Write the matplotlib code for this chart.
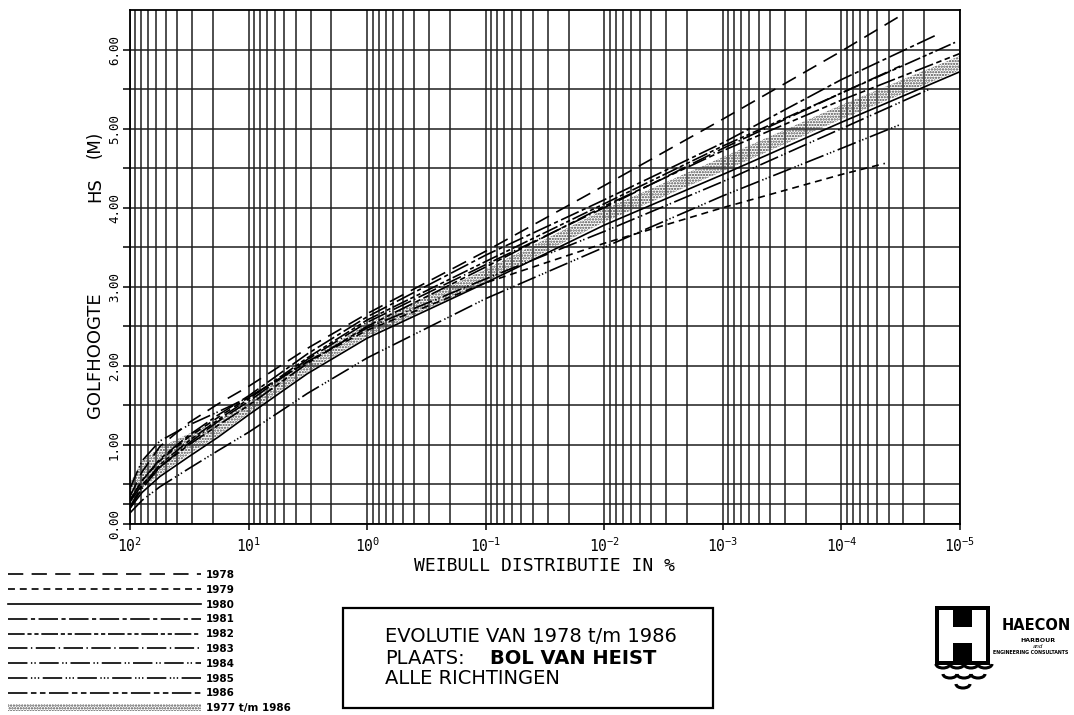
import matplotlib
matplotlib.use('Agg')
import matplotlib.pyplot as plt
import numpy as np
from matplotlib.patches import Rectangle, Arc, Patch
from matplotlib.ticker import FixedLocator, LogLocator, NullFormatter

plt.rcParams['lines.scale_dashes'] = False
plt.rcParams['mathtext.fontset'] = 'custom'
plt.rcParams['mathtext.rm'] = 'DejaVu Sans Mono'
plt.rcParams['hatch.linewidth'] = 1.1

# exceedance probability (%) read at these points, H_s in m
p_grid = [100, 79, 56, 32, 18, 10, 3.2, 1, 0.1, 0.01, 1e-3, 1e-4]

years = ['1978', '1979', '1980', '1981', '1982', '1983', '1984', '1985', '1986']
p_end = [3e-5, 4.3e-5, 1e-5, 1.55e-5, 1.1e-5, 3.2e-5, 1.74e-5, 3.2e-5, 1e-5]

h_1978 = [0.35, 0.66, 0.98, 1.28, 1.52, 1.74, 2.22, 2.66, 3.45, 4.28, 5.12, 5.98, 6.45]
h_1979 = [0.30, 0.55, 0.80, 1.10, 1.35, 1.60, 2.05, 2.45, 3.05, 3.55, 4.00, 4.42, 4.56]
h_1980 = [0.20, 0.40, 0.60, 0.85, 1.10, 1.38, 1.90, 2.35, 3.05, 3.78, 4.42, 5.08, 5.72]
h_1981 = [0.30, 0.55, 0.82, 1.12, 1.38, 1.62, 2.15, 2.62, 3.40, 4.10, 4.82, 5.62, 6.19]
h_1982 = [0.22, 0.48, 0.75, 1.05, 1.32, 1.58, 2.10, 2.58, 3.32, 4.05, 4.78, 5.45, 6.09]
h_1983 = [0.20, 0.45, 0.72, 1.02, 1.30, 1.55, 2.08, 2.55, 3.28, 4.00, 4.75, 5.45, 5.79]
h_1984 = [0.45, 0.80, 1.05, 1.25, 1.42, 1.60, 2.05, 2.48, 3.10, 3.70, 4.33, 5.00, 5.51]
h_1985 = [0.14, 0.30, 0.47, 0.70, 0.93, 1.16, 1.65, 2.10, 2.85, 3.50, 4.15, 4.75, 5.05]
h_1986 = [0.28, 0.50, 0.72, 1.00, 1.25, 1.50, 2.03, 2.50, 3.25, 4.02, 4.72, 5.36, 5.95]
h_years = [h_1978, h_1979, h_1980, h_1981, h_1982, h_1983, h_1984, h_1985, h_1986]

# band 1977 t/m 1986
p_band = [100, 79, 56, 32, 18, 10, 3.2, 1, 0.1, 0.01, 1e-3, 1e-4, 1e-5]
band_low = [0.25, 0.45, 0.62, 0.88, 1.12, 1.40, 1.92, 2.37, 3.06, 3.82, 4.46, 5.12, 5.74]
band_high = [0.52, 0.80, 0.97, 1.14, 1.31, 1.55, 2.07, 2.53, 3.22, 3.98, 4.64, 5.30, 5.92]

xtick_vals = [1e2, 1e1, 1e0, 1e-1, 1e-2, 1e-3, 1e-4, 1e-5]
xtick_labels = [r'$10^{2}$', r'$10^{1}$', r'$10^{0}$', r'$10^{-1}$',
                r'$10^{-2}$', r'$10^{-3}$', r'$10^{-4}$', r'$10^{-5}$']
ytick_vals = [0, 1, 2, 3, 4, 5, 6]
ytick_labels = ['0.00', '1.00', '2.00', '3.00', '4.00', '5.00', '6.00']
ygrid_minor = [0.25, 0.5, 1.5, 2.5, 3.5, 4.5, 5.5]

styles = {
    '1978': (0, (11, 6)),
    '1979': (0, (5, 3.5)),
    '1980': '-',
    '1981': (0, (14, 2.5, 3, 2.5)),
    '1982': (0, (12, 2, 3, 2, 3, 2)),
    '1983': (0, (14, 2.5, 1, 2.5)),
    '1984': (0, (14, 2.5, 1, 1.5, 1, 2.5)),
    '1985': (0, (14, 2.5, 1, 1.5, 1, 1.5, 1, 2.5)),
    '1986': (0, (14, 2.5, 4, 2.5, 4, 2.5)),
}

W, H = 1074, 715
fig = plt.figure(figsize=(W / 100, H / 100), dpi=100)
ax = fig.add_axes([130 / W, 1 - 524 / H, 830 / W, 514 / H])

ax.set_xscale('log')
ax.set_xlim(1e2, 1e-5)
ax.set_ylim(0, 6.5)

ax.xaxis.set_minor_locator(LogLocator(base=10, subs=np.arange(2, 10), numticks=30))
ax.xaxis.set_minor_formatter(NullFormatter())
ax.set_xticks(xtick_vals)
ax.set_xticklabels(xtick_labels)
ax.set_yticks(ytick_vals)
ax.set_yticklabels(ytick_labels, rotation=90, va='center', family='DejaVu Sans Mono', fontsize=9)
ax.yaxis.set_minor_locator(FixedLocator(ygrid_minor))

ax.grid(True, which='both', color='#1e1e1e', lw=1.1, zorder=1)
ax.set_axisbelow(True)
ax.tick_params(axis='x', which='major', direction='out', length=4, width=1.1, pad=5, labelsize=10.5)
ax.tick_params(axis='x', which='minor', length=0)
ax.tick_params(axis='y', which='both', direction='out', length=5, width=1.1, pad=1.5)
for s in ax.spines.values():
    s.set_linewidth(1.3)

ax.set_xlabel('WEIBULL DISTRIBUTIE IN %', family='DejaVu Sans Mono', fontsize=13)
ax.xaxis.set_label_coords(0.5, -0.065)

# y label pieces
fig.text(95 / W, 1 - 355 / H, 'GOLFHOOGTE', rotation=90, ha='center', va='center', fontsize=13)
fig.text(95 / W, 1 - 190 / H, 'HS', rotation=90, ha='center', va='center', fontsize=13)
fig.text(95 / W, 1 - 144 / H, '(M)', rotation=90, ha='center', va='center', fontsize=12)

ax.fill_between(p_band, band_low, band_high, facecolor='none', edgecolor='#4a4a4a',
                hatch='......', lw=0, zorder=2)

handles = []
for year, pe, hv in zip(years, p_end, h_years):
    ln, = ax.plot(p_grid + [pe], hv, color='black', lw=1.2, linestyle=styles[year],
                  label=year, zorder=3)
    handles.append(ln)

handles.append(Patch(facecolor='none', edgecolor='#4a4a4a', hatch='......', lw=0))
labels = years + ['1977 t/m 1986']
fig.legend(handles, labels, loc='upper left', bbox_to_anchor=(8 / W, 1 - 570 / H),
           frameon=False, prop={'weight': 'bold', 'size': 7.5}, handlelength=18.5,
           handletextpad=0.5, labelspacing=0.46, borderpad=0, borderaxespad=0)

# title box
fig.add_artist(Rectangle((343 / W, 1 - 708 / H), 370 / W, 100 / H, transform=fig.transFigure,
                         fill=False, lw=1.6, ec='black'))
fig.text(385 / W, 1 - 637 / H, 'EVOLUTIE VAN 1978 t/m 1986', va='center', fontsize=14)
fig.text(385 / W, 1 - 658 / H, 'PLAATS:', va='center', fontsize=14)
fig.text(490 / W, 1 - 658 / H, 'BOL VAN HEIST', va='center', fontsize=14, weight='bold')
fig.text(385 / W, 1 - 679 / H, 'ALLE RICHTINGEN', va='center', fontsize=14)

# logo
lg = fig.add_axes([930 / W, 1 - 700 / H, 144 / W, 100 / H])
lg.set_xlim(930, 1074)
lg.set_ylim(700, 600)
lg.axis('off')
lg.add_patch(Rectangle((935, 606), 55, 59, fc='black', ec='none'))
lg.add_patch(Rectangle((939, 610), 14, 51, fc='white', ec='none'))
lg.add_patch(Rectangle((972, 610), 14, 51, fc='white', ec='none'))
lg.add_patch(Rectangle((952, 627), 21, 16, fc='white', ec='none'))
for cx in [943, 957, 971, 985]:
    lg.add_patch(Arc((cx, 664), 14, 8, theta1=0, theta2=180, lw=2.2, color='black'))
for cx in [950, 964, 978]:
    lg.add_patch(Arc((cx, 674), 14, 8, theta1=0, theta2=180, lw=2.2, color='black'))
lg.add_patch(Arc((963, 684), 14, 8, theta1=0, theta2=180, lw=2.2, color='black'))
fig.text(1002 / W, 1 - 625 / H, 'HAECON', va='center', fontsize=10.5, weight='bold')
fig.text(1020 / W, 1 - 641 / H, 'HARBOUR', va='center', fontsize=4.5, weight='bold')
fig.text(1033 / W, 1 - 647 / H, 'and', va='center', fontsize=4, style='italic')
fig.text(993 / W, 1 - 652 / H, 'ENGINEERING CONSULTANTS', va='center', fontsize=3.4, weight='bold')

fig.savefig('out.png', dpi=100)
